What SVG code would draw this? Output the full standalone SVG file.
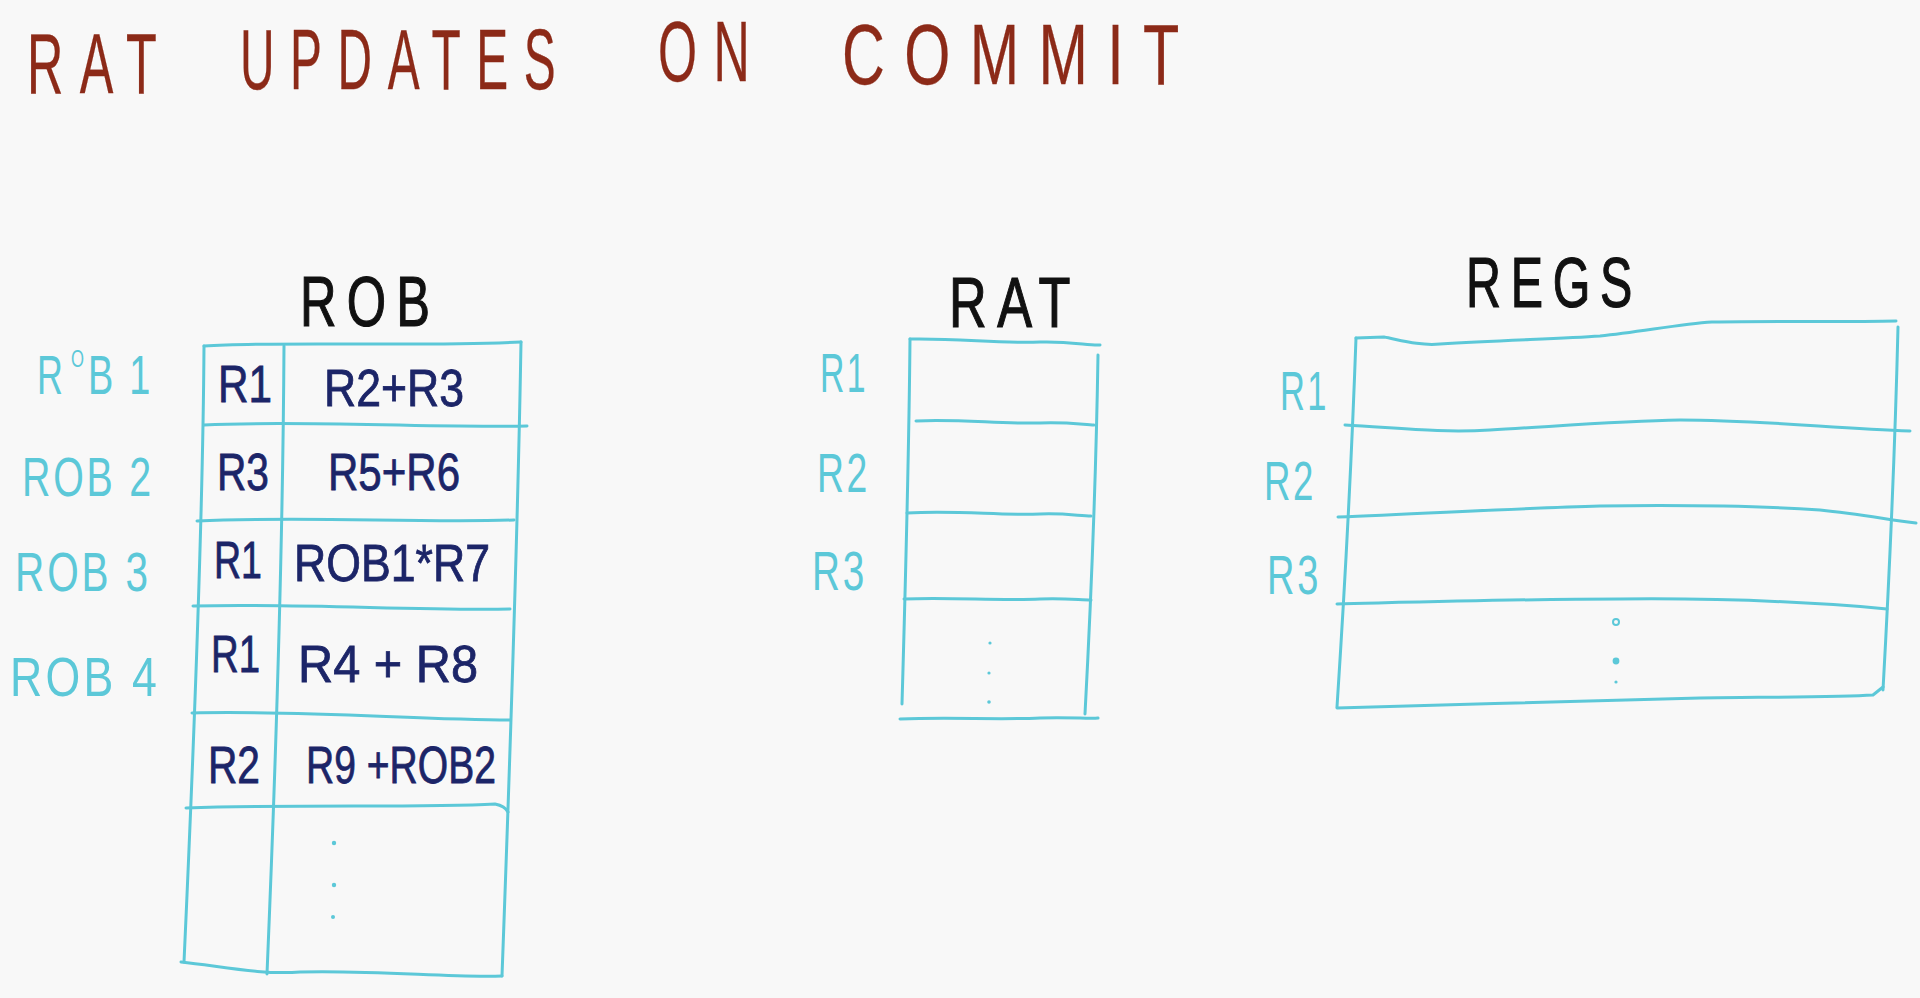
<svg xmlns="http://www.w3.org/2000/svg" width="1920" height="998" viewBox="0 0 1920 998">
  <style>
    .grid { fill: none; stroke: #5cc8d8; stroke-width: 3; stroke-linecap: round; stroke-linejoin: round; }
    .dot { fill: #5cc8d8; }
    .title { font-family: "Liberation Sans", "DejaVu Sans", sans-serif; font-size: 86px; fill: #8c2a18; stroke: #8c2a18; stroke-width: 0.3; letter-spacing: 28px; }
    .head { font-family: "Liberation Sans", "DejaVu Sans", sans-serif; font-size: 70px; fill: #111111; stroke: #111111; stroke-width: 1.2; letter-spacing: 14px; }
    .lbl { font-family: "Liberation Sans", "DejaVu Sans", sans-serif; font-size: 56px; fill: #5cc8d8; letter-spacing: 4px; }
    .lbl.small { font-size: 24px; letter-spacing: 0; }
    .entry { font-family: "Liberation Sans", "DejaVu Sans", sans-serif; font-size: 52px; fill: #1c2568; stroke: #1c2568; stroke-width: 0.8; }
  </style>

  <rect x="0" y="0" width="1920" height="998" fill="#f8f8f8"/>

  <!-- heading: narrow, widely spaced capitals -->
  <g id="title">
    <text class="title" transform="translate(27,93) scale(0.586,1)">RAT</text>
    <text class="title" transform="translate(240,89) scale(0.556,1)">UPDATES</text>
    <text class="title" transform="translate(658,81) scale(0.584,1)">ON</text>
    <text class="title" transform="translate(842,84) scale(0.69,1)">COMMIT</text>
  </g>

  <!-- reorder buffer -->
  <g id="rob">
    <text class="head" x="300" y="326" textLength="140" lengthAdjust="spacingAndGlyphs">ROB</text>
    <path class="grid" d="M204 346 C280 341 420 347 521 342"/>
    <path class="grid" d="M204 346 C203 500 196 700 184 962"/>
    <path class="grid" d="M284 346 C283 520 276 760 267 974"/>
    <path class="grid" d="M521 342 C518 520 510 760 502 976"/>
    <path class="grid" d="M204 425 C300 420 420 428 527 426"/>
    <path class="grid" d="M197 521 C300 516 420 523 514 520"/>
    <path class="grid" d="M193 606 C300 603 420 611 510 609"/>
    <path class="grid" d="M192 713 C300 710 420 720 510 720"/>
    <path class="grid" d="M186 808 C300 804 420 808 495 804 Q505 806 508 812"/>
    <path class="grid" d="M181 962 C220 966 260 975 300 972 C380 970 450 978 502 976"/>
    <circle class="dot" cx="334" cy="843" r="2.2"/>
    <circle class="dot" cx="334" cy="885" r="2.2"/>
    <circle class="dot" cx="333" cy="917" r="2"/>

    <!-- first label has a small raised O -->
    <text class="lbl" transform="translate(37,394) scale(0.64,1)" letter-spacing="0">R</text>
    <text class="lbl small" x="71" y="367" textLength="13" lengthAdjust="spacingAndGlyphs">O</text>
    <text class="lbl" x="88" y="394" textLength="65" lengthAdjust="spacingAndGlyphs">B 1</text>
    <text class="lbl" x="22" y="496" textLength="132" lengthAdjust="spacingAndGlyphs">ROB 2</text>
    <text class="lbl" x="15" y="591" textLength="136" lengthAdjust="spacingAndGlyphs">ROB 3</text>
    <text class="lbl" x="10" y="696" textLength="150" lengthAdjust="spacingAndGlyphs">ROB 4</text>

    <text class="entry" x="218" y="402" textLength="54" lengthAdjust="spacingAndGlyphs">R1</text>
    <text class="entry" x="324" y="406" textLength="140" lengthAdjust="spacingAndGlyphs">R2+R3</text>
    <text class="entry" x="217" y="490" textLength="52" lengthAdjust="spacingAndGlyphs">R3</text>
    <text class="entry" x="328" y="490" textLength="132" lengthAdjust="spacingAndGlyphs">R5+R6</text>
    <text class="entry" x="214" y="578" textLength="48" lengthAdjust="spacingAndGlyphs">R1</text>
    <text class="entry" x="294" y="581" textLength="196" lengthAdjust="spacingAndGlyphs">ROB1*R7</text>
    <text class="entry" x="211" y="672" textLength="49" lengthAdjust="spacingAndGlyphs">R1</text>
    <text class="entry" x="298" y="682" textLength="180" lengthAdjust="spacingAndGlyphs">R4 + R8</text>
    <text class="entry" x="208" y="783" textLength="52" lengthAdjust="spacingAndGlyphs">R2</text>
    <text class="entry" x="306" y="783" textLength="190" lengthAdjust="spacingAndGlyphs">R9 +ROB2</text>
  </g>

  <!-- register alias table -->
  <g id="rat">
    <text class="head" x="949" y="327" textLength="132" lengthAdjust="spacingAndGlyphs">RAT</text>
    <path class="grid" d="M910 339 C960 338 1000 344 1040 342 C1070 341 1090 346 1100 345"/>
    <path class="grid" d="M910 339 C909 450 905 600 902 704"/>
    <path class="grid" d="M1098 355 C1096 480 1090 620 1085 714"/>
    <path class="grid" d="M916 421 C960 419 1000 424 1040 423 C1070 422 1085 425 1094 425"/>
    <path class="grid" d="M907 513 C960 510 1000 516 1040 514 C1065 513 1080 516 1091 516"/>
    <path class="grid" d="M904 599 C950 597 1000 601 1040 599 C1065 598 1080 600 1091 600"/>
    <path class="grid" d="M900 719 C950 717 1000 720 1040 718 C1070 717 1090 719 1098 718"/>
    <circle class="dot" cx="990" cy="643" r="1.6"/>
    <circle class="dot" cx="989" cy="673" r="1.6"/>
    <circle class="dot" cx="989" cy="702" r="1.8"/>

    <text class="lbl" x="820" y="392" textLength="48" lengthAdjust="spacingAndGlyphs">R1</text>
    <text class="lbl" x="817" y="492" textLength="53" lengthAdjust="spacingAndGlyphs">R2</text>
    <text class="lbl" x="812" y="590" textLength="55" lengthAdjust="spacingAndGlyphs">R3</text>
  </g>

  <!-- architectural register file -->
  <g id="regs">
    <text class="head" x="1466" y="307" textLength="176" lengthAdjust="spacingAndGlyphs">REGS</text>
    <path class="grid" d="M1356 338 L1384 337 C1400 340 1420 346 1440 344 C1500 340 1560 339 1600 336 C1640 332 1680 324 1712 322 C1780 321 1850 322 1896 321"/>
    <path class="grid" d="M1356 338 C1352 450 1344 600 1337 707"/>
    <path class="grid" d="M1898 327 C1895 450 1888 600 1883 690"/>
    <path class="grid" d="M1345 425 C1400 428 1440 433 1490 430 C1560 426 1620 421 1680 420 C1760 420 1830 428 1910 431"/>
    <path class="grid" d="M1338 517 C1420 514 1520 508 1600 506 C1680 505 1760 506 1820 510 C1860 514 1890 520 1916 523"/>
    <path class="grid" d="M1337 604 C1420 602 1520 599 1620 599 C1720 598 1800 601 1887 609"/>
    <path class="grid" d="M1337 708 C1450 705 1600 700 1700 698 C1780 697 1840 697 1873 695 L1883 687"/>
    <circle cx="1616" cy="622" r="3" fill="none" stroke="#5cc8d8" stroke-width="2"/>
    <circle class="dot" cx="1616" cy="661" r="3.4"/>
    <circle class="dot" cx="1616" cy="682" r="1.6"/>

    <text class="lbl" x="1280" y="410" textLength="49" lengthAdjust="spacingAndGlyphs">R1</text>
    <text class="lbl" x="1264" y="500" textLength="52" lengthAdjust="spacingAndGlyphs">R2</text>
    <text class="lbl" x="1267" y="594" textLength="54" lengthAdjust="spacingAndGlyphs">R3</text>
  </g>
</svg>
